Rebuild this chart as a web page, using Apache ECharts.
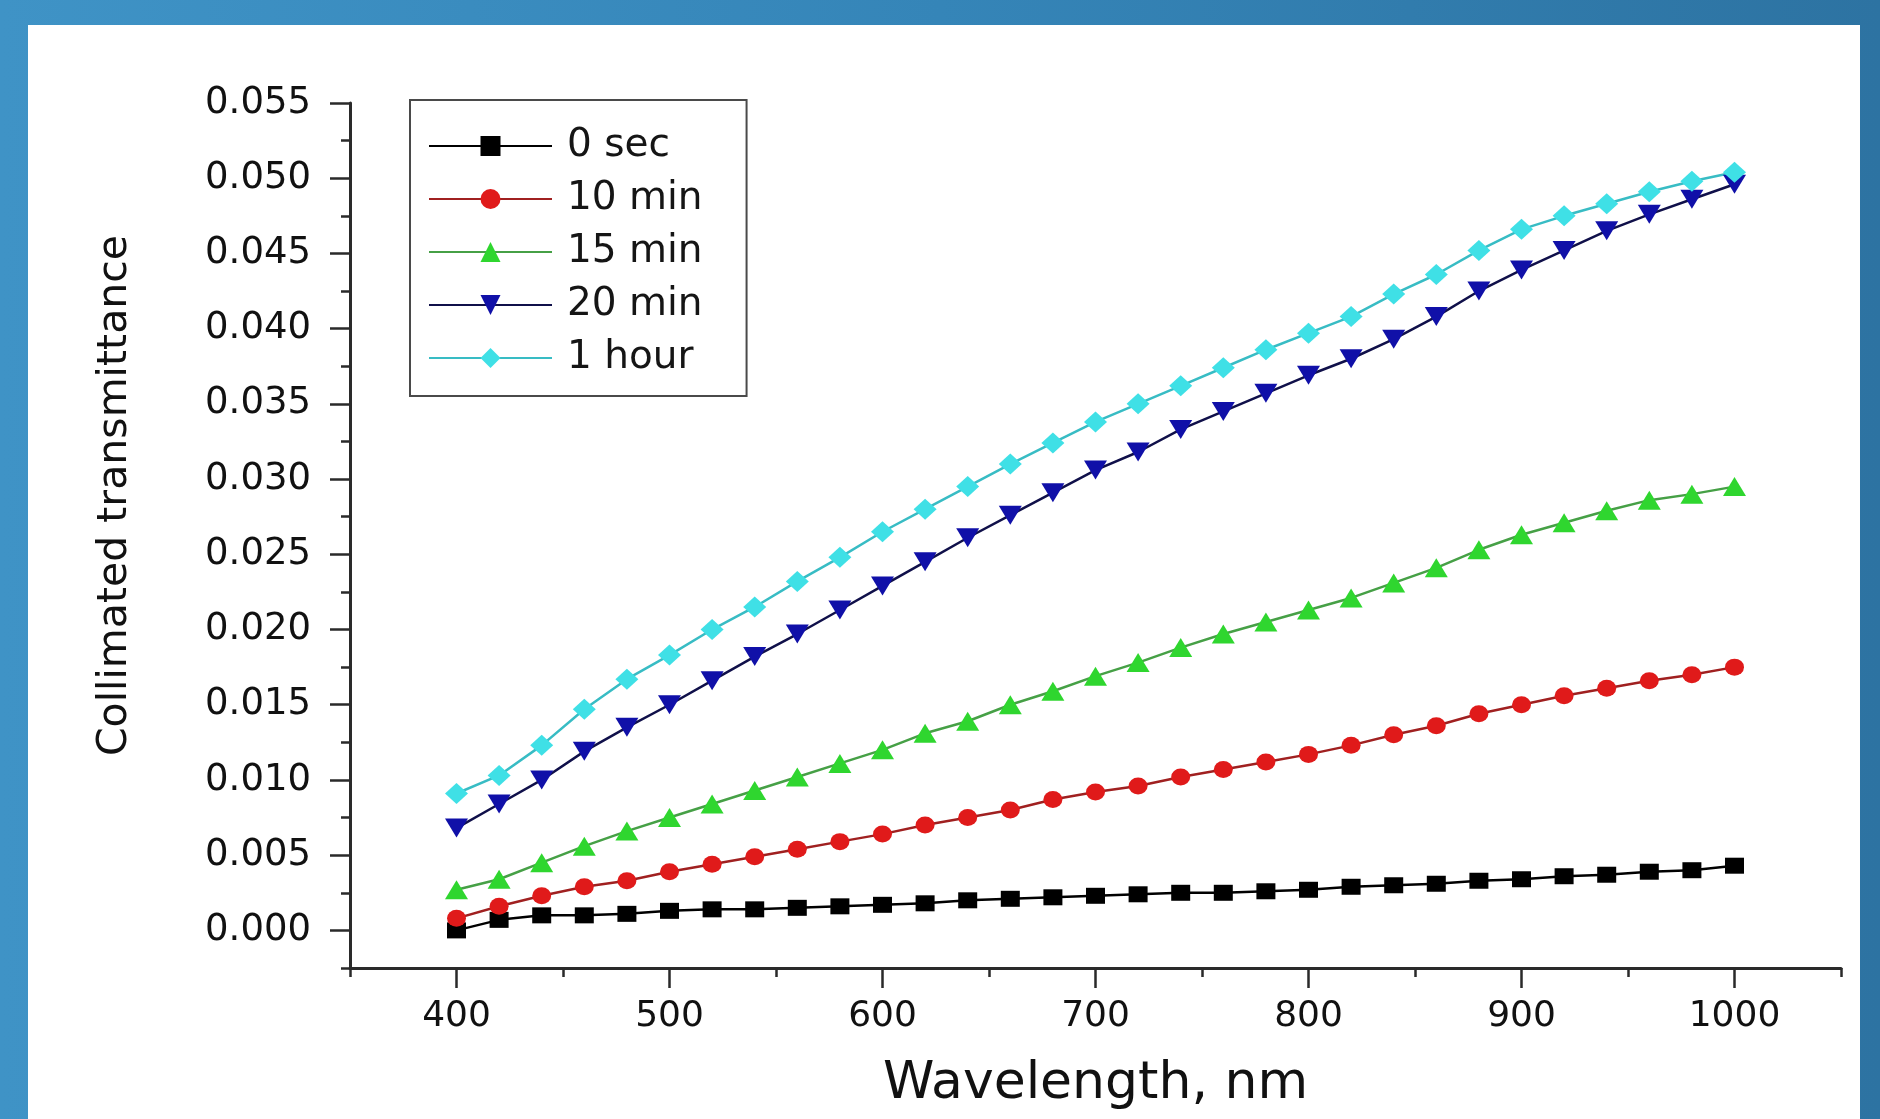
<!DOCTYPE html>
<html>
<head>
<meta charset="utf-8">
<title>Collimated transmittance</title>
<script src="https://cdn.jsdelivr.net/npm/echarts@6/dist/echarts.min.js"></script>
<style>
    html, body {
        margin: 0;
        padding: 0;
        width: 1880px;
        height: 1119px;
        overflow: hidden;
        background: linear-gradient(90deg, #3f93c6 0%, #3585b8 50%, #2d73a2 100%);
    }
    #paper {
        position: absolute;
        left: 28px;
        top: 25px;
        right: 20px;
        bottom: 0;
        background: #ffffff;
    }
    #chart {
        position: absolute;
        left: 0;
        top: 0;
        width: 1880px;
        height: 1119px;
    }
</style>
</head>
<body>
<div id="paper"></div>
<div id="chart"></div>
<script>
var wavelength = [400, 420, 440, 460, 480, 500, 520, 540, 560, 580, 600,
    620, 640, 660, 680, 700, 720, 740, 760, 780, 800,
    820, 840, 860, 880, 900, 920, 940, 960, 980, 1000];

var sec0 = [0.0000, 0.0007, 0.0010, 0.0010, 0.0011, 0.0013, 0.0014, 0.0014, 0.0015, 0.0016, 0.0017,
    0.0018, 0.0020, 0.0021, 0.0022, 0.0023, 0.0024, 0.0025, 0.0025, 0.0026, 0.0027,
    0.0029, 0.0030, 0.0031, 0.0033, 0.0034, 0.0036, 0.0037, 0.0039, 0.0040, 0.0043];

var min10 = [0.0008, 0.0016, 0.0023, 0.0029, 0.0033, 0.0039, 0.0044, 0.0049, 0.0054, 0.0059, 0.0064,
    0.0070, 0.0075, 0.0080, 0.0087, 0.0092, 0.0096, 0.0102, 0.0107, 0.0112, 0.0117,
    0.0123, 0.0130, 0.0136, 0.0144, 0.0150, 0.0156, 0.0161, 0.0166, 0.0170, 0.0175];

var min15 = [0.0027, 0.0034, 0.0045, 0.0056, 0.0066, 0.0075, 0.0084, 0.0093, 0.0102, 0.0111, 0.0120,
    0.0131, 0.0139, 0.0150, 0.0159, 0.0169, 0.0178, 0.0188, 0.0197, 0.0205, 0.0213,
    0.0221, 0.0231, 0.0241, 0.0253, 0.0263, 0.0271, 0.0279, 0.0286, 0.0290, 0.0295];

var min20 = [0.0068, 0.0084, 0.0100, 0.0119, 0.0135, 0.0150, 0.0166, 0.0182, 0.0197, 0.0213, 0.0229,
    0.0245, 0.0261, 0.0276, 0.0291, 0.0306, 0.0318, 0.0333, 0.0345, 0.0357, 0.0369,
    0.0380, 0.0393, 0.0408, 0.0425, 0.0439, 0.0452, 0.0465, 0.0476, 0.0486, 0.0496];

var hour1 = [0.0091, 0.0103, 0.0123, 0.0147, 0.0167, 0.0183, 0.0200, 0.0215, 0.0232, 0.0248, 0.0265,
    0.0280, 0.0295, 0.0310, 0.0324, 0.0338, 0.0350, 0.0362, 0.0374, 0.0386, 0.0397,
    0.0408, 0.0423, 0.0436, 0.0452, 0.0466, 0.0475, 0.0483, 0.0491, 0.0498, 0.0504];

var seriesNames = ['0 sec', '10 min', '15 min', '20 min', '1 hour'];

var xTicks = [400, 500, 600, 700, 800, 900, 1000];
var xMinorTicks = [350, 450, 550, 650, 750, 850, 950, 1050];
var yTicks = [0, 0.005, 0.010, 0.015, 0.020, 0.025, 0.030, 0.035, 0.040, 0.045, 0.050, 0.055];
var yMinorTicks = [-0.0025, 0.0025, 0.0075, 0.0125, 0.0175, 0.0225, 0.0275, 0.0325, 0.0375, 0.0425, 0.0475, 0.0525];

var chart = echarts.init(document.getElementById('chart'));

function pairs(ys) {
    return wavelength.map(function (x, i) {
        return [x, ys[i]];
    });
}

function lineSeries(name, ys, symbol, size, color, lineColor, rotate) {
    return {
        name: name,
        type: 'line',
        data: pairs(ys),
        symbol: symbol,
        symbolSize: size,
        symbolRotate: rotate || 0,
        showAllSymbol: true,
        itemStyle: {
            color: color
        },
        lineStyle: {
            color: lineColor,
            width: 2.5
        },
        emphasis: {
            disabled: true
        }
    };
}

var font = 'DejaVu Sans';
var axisColor = '#2a2a2a';

var option = {
    animation: false,
    grid: {
        left: 350,
        right: 39,
        top: 103,
        bottom: 151
    },
    legend: {
        orient: 'vertical',
        left: 410,
        top: 100,
        padding: [26, 44, 18, 18],
        borderColor: '#4a4a4a',
        borderWidth: 2,
        itemWidth: 123,
        itemHeight: 25,
        itemGap: 13,
        selectedMode: false,
        data: seriesNames,
        textStyle: {
            fontFamily: font,
            fontSize: 39,
            lineHeight: 40,
            color: '#151515',
            padding: [0, 0, 0, 10]
        }
    },
    xAxis: [{
        type: 'value',
        min: 350,
        max: 1050,
        position: 'bottom',
        name: 'Wavelength, nm',
        nameLocation: 'middle',
        nameGap: 90,
        nameTextStyle: {
            fontFamily: font,
            fontSize: 52,
            color: '#111'
        },
        axisLine: {
            onZero: false,
            lineStyle: { color: axisColor, width: 3 }
        },
        axisTick: {
            customValues: xTicks,
            length: 20,
            lineStyle: { color: axisColor, width: 2.5 }
        },
        axisLabel: {
            customValues: xTicks,
            margin: 31,
            fontFamily: font,
            fontSize: 36,
            color: '#111',
            formatter: function (v) {
                return String(v);
            }
        },
        splitLine: { show: false }
    }, {
        type: 'value',
        min: 350,
        max: 1050,
        position: 'bottom',
        axisLine: { show: false, onZero: false },
        axisTick: {
            customValues: xMinorTicks,
            length: 9,
            lineStyle: { color: axisColor, width: 2.5 }
        },
        axisLabel: { show: false },
        splitLine: { show: false }
    }],
    yAxis: [{
        type: 'value',
        min: -0.0025,
        max: 0.055,
        position: 'left',
        name: 'Collimated transmittance',
        nameLocation: 'middle',
        nameGap: 214,
        nameTextStyle: {
            fontFamily: font,
            fontSize: 41,
            color: '#111',
            padding: [0, 0, 0, 80]
        },
        axisLine: {
            onZero: false,
            lineStyle: { color: axisColor, width: 3 }
        },
        axisTick: {
            customValues: yTicks,
            length: 20,
            lineStyle: { color: axisColor, width: 2.5 }
        },
        axisLabel: {
            customValues: yTicks,
            margin: 39,
            fontFamily: font,
            fontSize: 37,
            color: '#111',
            formatter: function (v) {
                return v.toFixed(3);
            }
        },
        splitLine: { show: false }
    }, {
        type: 'value',
        min: -0.0025,
        max: 0.055,
        position: 'left',
        axisLine: { show: false, onZero: false },
        axisTick: {
            customValues: yMinorTicks,
            length: 9,
            lineStyle: { color: axisColor, width: 2.5 }
        },
        axisLabel: { show: false },
        splitLine: { show: false }
    }],
    series: [
        lineSeries(seriesNames[0], sec0, 'rect', [19, 16], '#000000', '#000000'),
        lineSeries(seriesNames[1], min10, 'circle', [19, 17], '#e01a1a', '#a02020'),
        lineSeries(seriesNames[2], min15, 'triangle', [23, 19], '#2fd62f', '#46a046'),
        lineSeries(seriesNames[3], min20, 'triangle', [23, 19], '#1010a8', '#10104a', 180),
        lineSeries(seriesNames[4], hour1, 'diamond', [23, 21], '#3fe0e6', '#38bcc4')
    ]
};

option && chart.setOption(option);
</script>
</body>
</html>
